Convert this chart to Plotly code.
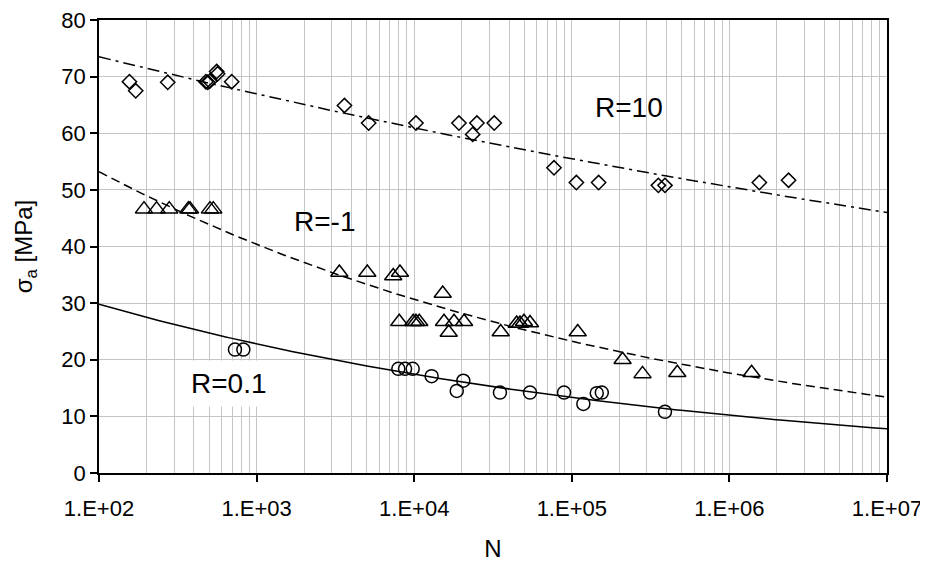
import numpy as np
import plotly.graph_objects as go

# ---- data ----
x_tickvals = [1e2, 1e3, 1e4, 1e5, 1e6, 1e7]
x_ticktext = ["1.E+02", "1.E+03", "1.E+04", "1.E+05", "1.E+06", "1.E+07"]
x_minor_mult = [2, 3, 4, 5, 6, 7, 8, 9]

r10_N = [156, 171, 273, 477, 490, 505, 558, 566, 695, 3610, 5140, 10260, 19230,
         23500, 25000, 32200, 77100, 106900, 148000, 354000, 390000, 1549000, 2374000]
r10_S = [69.1, 67.5, 69.0, 69.1, 69.0, 69.2, 70.9, 70.5, 69.1, 64.9, 61.8, 61.8, 61.8,
         59.8, 61.8, 61.8, 53.9, 51.3, 51.3, 50.8, 50.8, 51.3, 51.7]

rm1_N = [193, 232, 279, 369, 378, 506, 531, 3350, 5040, 7360, 8120, 15170, 8040, 9860,
         10260, 10770, 15460, 16560, 17900, 20720, 35400, 44700, 46900, 49700, 54300,
         109000, 210000, 281000, 467000, 1383000]
rm1_S = [46.6, 46.6, 46.6, 46.6, 46.6, 46.6, 46.6, 35.4, 35.4, 34.8, 35.4, 31.7, 26.7, 26.7,
         26.7, 26.7, 26.7, 24.8, 26.7, 26.7, 24.9, 26.4, 26.4, 26.7, 26.5,
         24.9, 20.0, 17.5, 17.7, 17.7]

r01_N = [729, 824, 7930, 8750, 9780, 12900, 18620, 20500, 35000, 54300, 89300,
         118400, 144000, 155000, 390000]
r01_S = [21.8, 21.8, 18.4, 18.4, 18.4, 17.1, 14.5, 16.3, 14.2, 14.2, 14.2,
         12.2, 14.1, 14.2, 10.8]

# power-law trendlines: stress at N=1E+02 and N=1E+07
trend_N_ends = [1e2, 1e7]
r10_trend_S = [73.5, 46.0]
rm1_trend_S = [53.2, 13.4]
r01_trend_S = [29.8, 7.8]

labels = ["R=10", "R=-1", "R=0.1"]
label_N = [230700, 2680, 668]
label_S = [64.6, 44.4, 15.8]

FONT = "Liberation Sans, Arial, sans-serif"


def power_trend(S_ends):
    # power law S = a * N^b through the two read trendline end values
    lx = np.log10(trend_N_ends)
    ly = np.log10(S_ends)
    b = (ly[1] - ly[0]) / (lx[1] - lx[0])
    a = ly[0] - b * lx[0]
    xs = np.logspace(lx[0], lx[1], 200)
    return xs, 10 ** (a + b * np.log10(xs))


fig = go.Figure()

for S_ends, dash in [(r10_trend_S, "12px,5px,3px,5px"),
                     (rm1_trend_S, "9px,5px"),
                     (r01_trend_S, "solid")]:
    xs, ys = power_trend(S_ends)
    fig.add_trace(go.Scatter(x=xs, y=ys, mode="lines",
                             line=dict(color="black", width=1.5, dash=dash),
                             showlegend=False, hoverinfo="skip"))

mk_line = dict(color="black", width=1.5)
fig.add_trace(go.Scatter(x=r10_N, y=r10_S, mode="markers", showlegend=False,
                         marker=dict(symbol="diamond-open", size=11, color="black", line=mk_line)))
fig.add_trace(go.Scatter(x=rm1_N, y=rm1_S, mode="markers", showlegend=False,
                         marker=dict(symbol="triangle-up-open", size=15, color="black", line=mk_line)))
fig.add_trace(go.Scatter(x=r01_N, y=r01_S, mode="markers", showlegend=False,
                         marker=dict(symbol="circle-open", size=13, color="black", line=mk_line)))

for t, xn, ys in zip(labels, label_N, label_S):
    fig.add_annotation(x=np.log10(xn), y=ys, text=t, showarrow=False,
                       font=dict(family=FONT, size=28, color="black"),
                       bgcolor="white" if t == "R=0.1" else None,
                       borderpad=7 if t == "R=0.1" else 1)

minor_vals = [m * d for d in x_tickvals[:-1] for m in x_minor_mult]

grid_c = "#c4c4c4"
fig.update_xaxes(type="log", range=[2, 7],
                 tickvals=x_tickvals, ticktext=x_ticktext,
                 ticks="outside", ticklen=7, tickcolor="black", tickwidth=1.5,
                 showline=True, linecolor="black", linewidth=1.5, mirror=True,
                 showgrid=True, gridcolor=grid_c, gridwidth=1,
                 minor=dict(tickmode="array", tickvals=minor_vals, showgrid=True,
                            gridcolor=grid_c, gridwidth=1, ticks=""),
                 tickfont=dict(family=FONT, size=22, color="black"),
                 ticklabeloverflow="allow", ticklabelstandoff=8,
                 title=dict(text="N", font=dict(family=FONT, size=24, color="black"), standoff=20),
                 zeroline=False)
fig.update_yaxes(range=[0, 80], dtick=10,
                 ticks="outside", ticklen=7, tickcolor="black", tickwidth=1.5,
                 showline=True, linecolor="black", linewidth=1.5, mirror=True,
                 showgrid=True, gridcolor=grid_c, gridwidth=1,
                 tickfont=dict(family=FONT, size=22, color="black"),
                 ticklabeloverflow="allow",
                 title=dict(text="σ<sub>a</sub> [MPa]", font=dict(family=FONT, size=24, color="black"),
                            standoff=22),
                 zeroline=False)

fig.update_layout(width=928, height=563,
                  margin=dict(l=91, r=49, t=12, b=98, autoexpand=False),
                  paper_bgcolor="white", plot_bgcolor="white",
                  font=dict(family=FONT, color="black"))

fig.write_html("out.html")
